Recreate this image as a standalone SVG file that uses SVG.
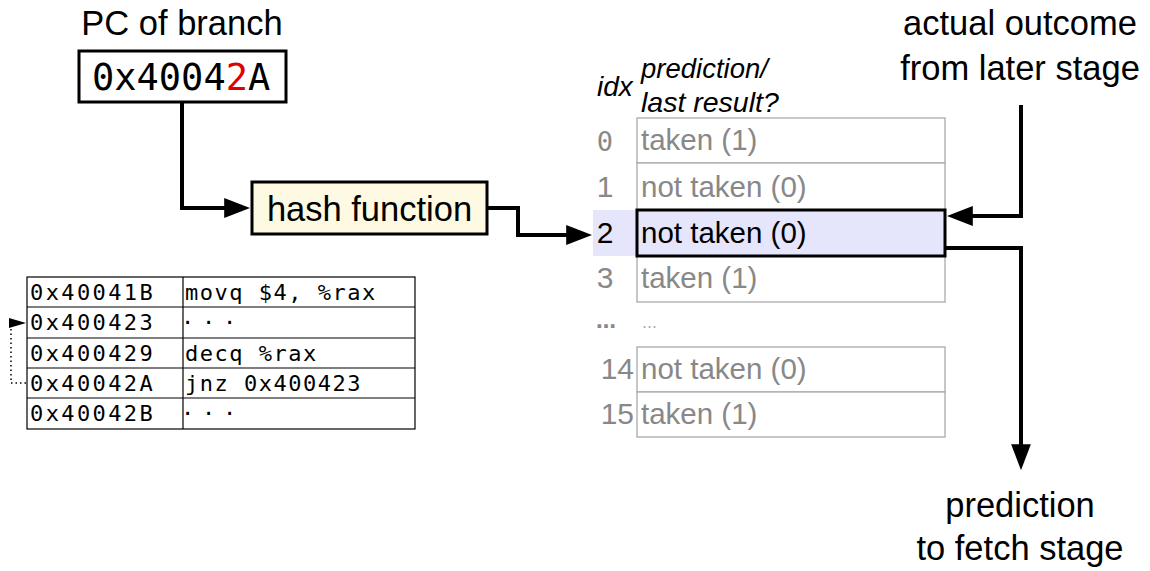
<svg xmlns="http://www.w3.org/2000/svg" width="1150" height="571" viewBox="0 0 1150 571">
<defs>
<style>
.sans{font-family:"Liberation Sans",Arial,sans-serif;fill:#000}
.mono{font-family:"DejaVu Sans Mono",monospace}
.big{font-size:34.5px}
.row{font-family:"Liberation Sans",Arial,sans-serif;font-size:29.5px;fill:#888}
.idx{font-family:"Liberation Sans",Arial,sans-serif;font-size:30px;fill:#888}
.sel{fill:#000}
.cell{fill:#fff;stroke:#aaa;stroke-width:1.3}
.code{font-family:"DejaVu Sans Mono",monospace;font-size:22px;fill:#000}
.ct{fill:none;stroke:#000;stroke-width:1.2}
.conn{fill:none;stroke:#000;stroke-width:4}
</style>
<marker id="ah" viewBox="0 0 10 7.6" refX="8" refY="3.8" markerWidth="6.5" markerHeight="4.94" markerUnits="strokeWidth" orient="auto"><path d="M0,0 L10,3.8 L0,7.6 z" fill="#000"/></marker>
<marker id="ahs" viewBox="0 0 17 10" refX="16" refY="5" markerWidth="17" markerHeight="10" markerUnits="userSpaceOnUse" orient="auto"><path d="M0,0 L17,5 L0,10 z" fill="#000"/></marker>
</defs>
<rect width="1150" height="571" fill="#fff"/>

<g id="pc">
<text class="sans big" x="182" y="35" text-anchor="middle">PC of branch</text>
<rect x="79" y="51" width="207" height="51" fill="#fff" stroke="#000" stroke-width="3"/>
<text class="mono" font-size="37" x="92" y="90" style="fill:#000">0x4004<tspan style="fill:#e00000">2</tspan>A</text>
</g>

<g id="hash">
<rect x="252" y="182" width="235" height="52" fill="#fdf9e3" stroke="#000" stroke-width="3"/>
<text class="sans big" x="369.5" y="221" text-anchor="middle">hash function</text>
</g>

<g id="table">
<text class="sans" font-size="28" font-style="italic" x="597" y="96">idx</text>
<text class="sans" font-size="27.5" font-style="italic" x="641" y="78">prediction/</text>
<text class="sans" font-size="28.5" font-style="italic" x="641" y="112">last result?</text>
<rect x="593" y="210" width="44" height="46" fill="#e5e5fb"/>
<g id="row0"><rect class="cell" x="637" y="118" width="308" height="45"/><text class="mono" font-size="27" style="fill:#888" x="605" y="151" text-anchor="middle">0</text><text class="row" x="641" y="150">taken (1)</text></g>
<g id="row1"><rect class="cell" x="637" y="163" width="308" height="47"/><text class="idx" x="605" y="197" text-anchor="middle">1</text><text class="row" x="641" y="197">not taken (0)</text></g>
<g id="row3"><rect class="cell" x="637" y="256" width="308" height="46"/><text class="idx" x="605" y="288" text-anchor="middle">3</text><text class="row" x="641" y="288">taken (1)</text></g>
<g id="row2"><rect x="637" y="210" width="308" height="46" fill="#e5e5fb" stroke="#000" stroke-width="3"/><text class="idx sel" x="605" y="243" text-anchor="middle">2</text><text class="row sel" x="641" y="243">not taken (0)</text></g>
<text x="596" y="328" font-family="DejaVu Sans,sans-serif" font-size="20" font-weight="bold" fill="#888">…</text>
<text x="642" y="328" font-family="DejaVu Sans,sans-serif" font-size="15" fill="#aaa">…</text>
<g id="row14"><rect class="cell" x="637" y="347" width="308" height="45"/><text class="idx" x="634" y="379" text-anchor="end" font-size="31">14</text><text class="row" x="641" y="379">not taken (0)</text></g>
<g id="row15"><rect class="cell" x="637" y="392" width="308" height="45"/><text class="idx" x="634" y="424" text-anchor="end" font-size="31">15</text><text class="row" x="641" y="424">taken (1)</text></g>
</g>

<g id="outcome">
<text class="sans big" x="1020" y="35" text-anchor="middle">actual outcome</text>
<text class="sans big" x="1020" y="80" text-anchor="middle">from later stage</text>
</g>

<g id="predout">
<text class="sans big" x="1020" y="517" text-anchor="middle">prediction</text>
<text class="sans big" x="1020" y="560" text-anchor="middle">to fetch stage</text>
</g>

<g id="code">
<rect class="ct" x="27" y="277" width="388" height="152"/>
<line class="ct" x1="183" y1="277" x2="183" y2="429"/>
<line class="ct" x1="27" y1="307" x2="415" y2="307"/>
<line class="ct" x1="27" y1="338" x2="415" y2="338"/>
<line class="ct" x1="27" y1="368" x2="415" y2="368"/>
<line class="ct" x1="27" y1="398" x2="415" y2="398"/>
<g letter-spacing="2.4">
<text class="code" x="30" y="300">0x40041B</text>
<text class="code" x="30" y="330">0x400423</text>
<text class="code" x="30" y="361">0x400429</text>
<text class="code" x="30" y="391">0x40042A</text>
<text class="code" x="30" y="421">0x40042B</text>
</g>
<g letter-spacing="1.5">
<text class="code" x="185" y="300">movq $4, %rax</text>
<text class="code" x="185" y="361">decq %rax</text>
<text class="code" x="185" y="391">jnz 0x400423</text>
</g>
<text class="code" x="181" y="330" letter-spacing="7.8">···</text>
<text class="code" x="181" y="421" letter-spacing="7.8">···</text>
</g>

<g id="connectors">
<path class="conn" d="M182,102 V208 H245" marker-end="url(#ah)"/>
<path class="conn" d="M487,208 H518 V235 H587" marker-end="url(#ah)"/>
<path class="conn" d="M1021,105 V216 H952" marker-end="url(#ah)"/>
<path class="conn" d="M945,248 H1021 V465" marker-end="url(#ah)"/>
<path d="M26,383 H11 V323 H25" fill="none" stroke="#000" stroke-width="1.5" stroke-dasharray="1.5 3" marker-end="url(#ahs)"/>
</g>
</svg>
